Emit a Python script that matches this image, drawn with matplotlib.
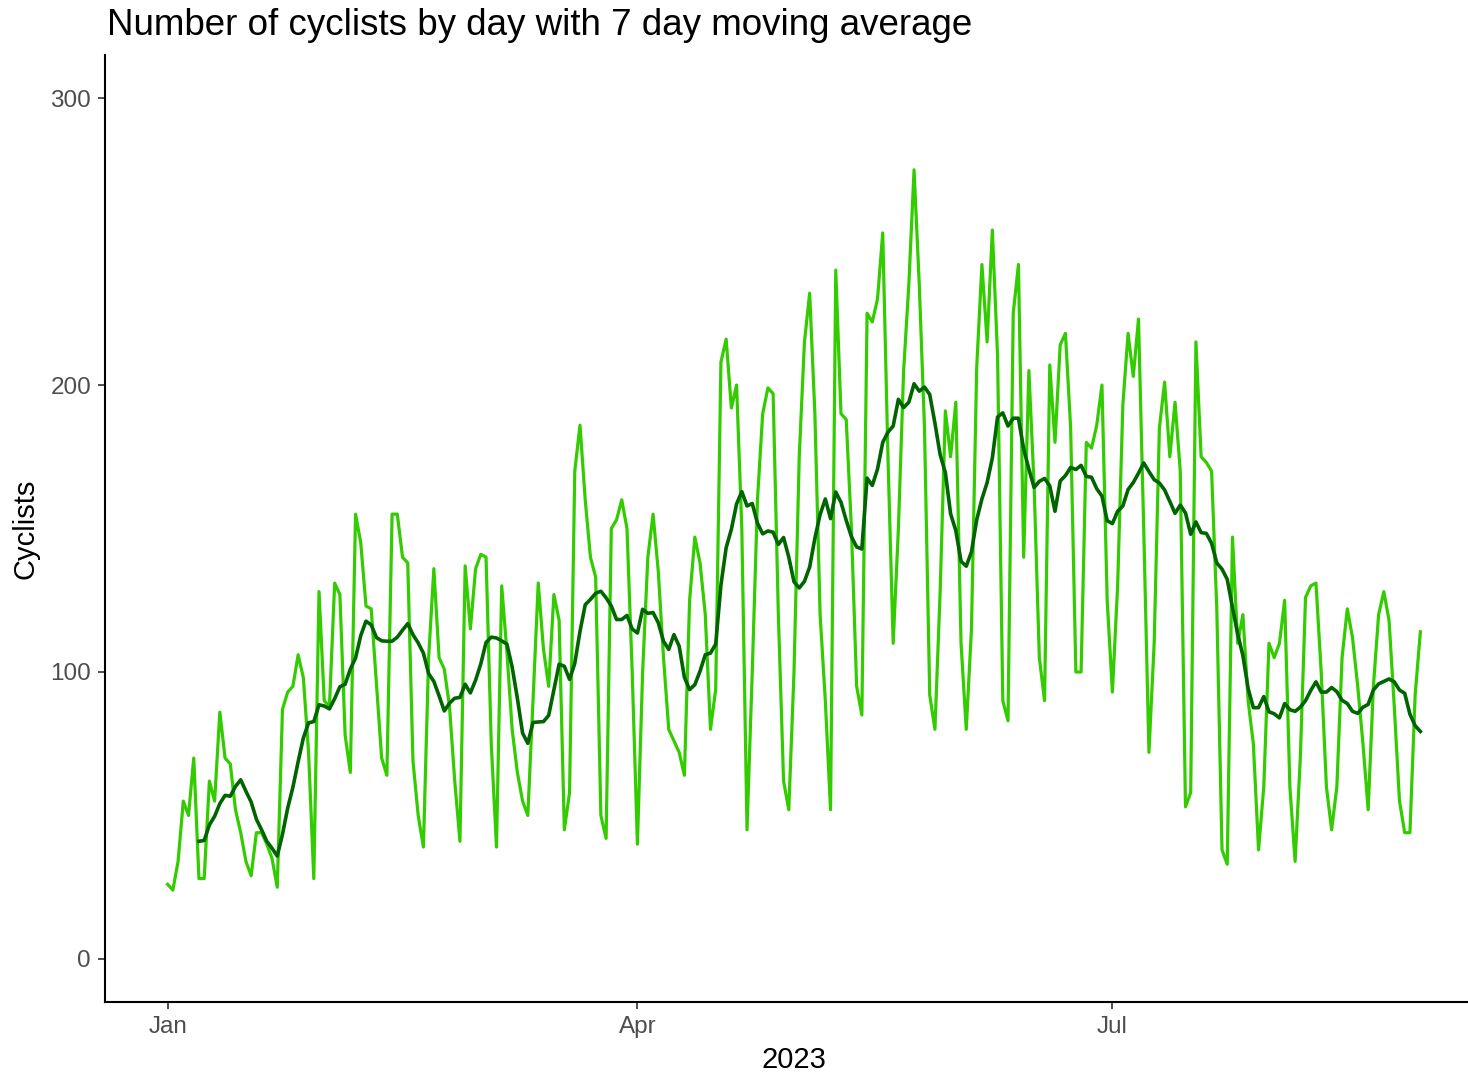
import pandas as pd
import matplotlib
matplotlib.use("Agg")
import matplotlib.pyplot as plt
import matplotlib.dates as mdates

# daily cyclist counts, 2023
jan = [26, 24, 34, 55, 50, 70, 28, 28, 62, 55, 86, 70, 68, 52, 44, 34, 29, 44, 44, 40,
       35, 25, 87, 93, 95, 106, 98, 72, 28, 128, 90]
feb = [88, 131, 127, 78, 65, 155, 145, 123, 122, 96, 70, 64, 155, 155, 140, 138, 69, 50,
       39, 105, 136, 105, 101, 88, 62, 41, 137, 115]
mar = [136, 141, 140, 75, 39, 130, 107, 80, 65, 55, 50, 90, 131, 108, 95, 127, 118, 45,
       58, 170, 186, 160, 140, 133, 50, 42, 150, 153, 160, 150, 100]
apr = [40, 100, 140, 155, 135, 105, 80, 76, 72, 64, 125, 147, 138, 120, 80, 94, 208, 216,
       192, 200, 150, 45, 100, 160, 190, 199, 197, 120, 62, 52]
may = [100, 175, 215, 232, 190, 120, 90, 52, 240, 190, 188, 150, 95, 85, 225, 222, 230,
       253, 175, 110, 150, 205, 235, 275, 235, 185, 92, 80, 128, 191, 175]
jun = [194, 110, 80, 115, 206, 242, 215, 254, 210, 90, 83, 225, 242, 140, 205, 165, 105,
       90, 207, 180, 214, 218, 185, 100, 100, 180, 178, 186, 200, 125]
jul = [93, 130, 193, 218, 203, 223, 150, 72, 110, 185, 201, 175, 194, 170, 53, 58, 215,
       175, 173, 170, 122, 38, 33, 147, 110, 120, 90, 75, 38, 60, 110]
aug = [105, 110, 125, 60, 34, 70, 126, 130, 131, 100, 60, 45, 60, 105, 122, 112, 95, 75,
       52, 95, 120, 128, 118, 88, 55, 44, 44, 92, 114]

start_date = "2023-01-01"
y_ticks = [0, 100, 200, 300]
x_tick_months = [1, 4, 7]

DAILY_COLOR = "#33cc00"
AVG_COLOR = "#006400"

W, H = 1468, 1078


def main() -> None:
	counts = jan + feb + mar + apr + may + jun + jul + aug
	dates = pd.date_range(start_date, periods=len(counts), freq="D")
	avg = pd.Series(counts, index=dates).rolling(7).mean()

	plt.rcParams["font.family"] = ["Liberation Sans", "DejaVu Sans"]

	fig = plt.figure(figsize=(W / 100, H / 100), dpi=100)
	# panel runs a little past the right edge, like the cropped original
	ax = fig.add_axes([105 / W, 1 - 1002 / H, (1483 - 105) / W, (1002 - 55) / H])

	ax.plot(dates, counts, color=DAILY_COLOR, lw=2.3)
	ax.plot(dates, avg.values, color=AVG_COLOR, lw=2.6)

	ax.set_ylim(-15, 315)
	ax.set_xlim(dates[0] - pd.Timedelta(days=12), dates[-1] + pd.Timedelta(days=12))
	ax.set_yticks(y_ticks)
	ax.xaxis.set_major_locator(mdates.MonthLocator(bymonth=x_tick_months))
	ax.xaxis.set_major_formatter(mdates.DateFormatter("%b"))

	for side in ["top", "right"]:
		ax.spines[side].set_visible(False)
	for side in ["left", "bottom"]:
		ax.spines[side].set_linewidth(1.5)
		ax.spines[side].set_color("black")

	ax.tick_params(axis="both", length=5, width=1.2, color="#333333",
				   labelcolor="#4d4d4d", labelsize=17.5, pad=5)

	ax.set_ylabel("Cyclists", fontsize=21, color="black", labelpad=8)
	ax.set_xlabel("2023", fontsize=21, color="black", labelpad=6)

	fig.text(107 / W, 1 - 35 / H, "Number of cyclists by day with 7 day moving average",
			 fontsize=26.5, ha="left", va="baseline", color="black")

	fig.savefig("out.png", dpi=100)


if __name__ == '__main__':
	main()
